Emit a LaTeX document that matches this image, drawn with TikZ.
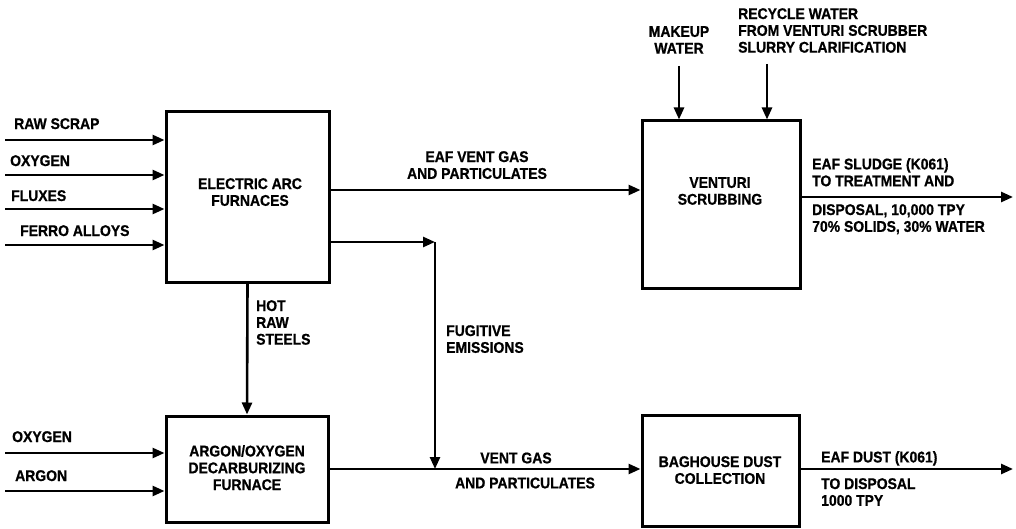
\documentclass[tikz,border=0pt]{standalone}
\usepackage{fontspec}
\setmainfont{Liberation Sans}
\newfontfamily\lblfont{Liberation Sans}[BoldFeatures={FakeStretch=0.9,FakeBold=0.8}]
\usetikzlibrary{arrows.meta}
\begin{document}
\begin{tikzpicture}[x=1pt,y=-1pt,
  box/.style={draw,line width=3pt,inner sep=0pt},
  flow/.style={line width=2.6pt,-{Triangle[length=12pt,width=10pt]}},
  lbl/.style={inner sep=0pt,font=\lblfont\bfseries\fontsize{15.5}{16.8}\selectfont},
  lbll/.style={lbl,align=left,anchor=north west},
  lblc/.style={lbl,align=center,anchor=north}]
\useasboundingbox (0,0) rectangle (1016,529);
% boxes
\node[box,minimum width=163pt,minimum height=170pt] (eaf) at (247.5,197) {};
\node[box,minimum width=158pt,minimum height=167pt] (ven) at (721,204.5) {};
\node[box,minimum width=162pt,minimum height=106pt] (aod) at (247,469) {};
\node[box,minimum width=157pt,minimum height=111pt] (bag) at (720.5,470.5) {};
% box texts
\node[lblc] (teaf) at (250,178) {ELECTRIC ARC\\FURNACES};
\node[lblc] (tven) at (720,177) {VENTURI\\SCRUBBING};
\node[lblc] (taod) at (247,445) {ARGON/OXYGEN\\DECARBURIZING\\FURNACE};
\node[lblc] (tbag) at (720,456) {BAGHOUSE DUST\\COLLECTION};
% EAF inputs
\coordinate (i1) at (5,140);
\coordinate (i2) at (5,175);
\coordinate (i3) at (5,209);
\coordinate (i4) at (5,245);
\draw[flow] (i1) -- (eaf.west |- i1);
\draw[flow] (i2) -- (eaf.west |- i2);
\draw[flow] (i3) -- (eaf.west |- i3);
\draw[flow] (i4) -- (eaf.west |- i4);
\node[lbll] (l1) at (14,118) {RAW SCRAP};
\node[lbll] (l2) at (10,155) {OXYGEN};
\node[lbll] (l3) at (11,190) {FLUXES};
\node[lbll] (l4) at (20,225) {FERRO ALLOYS};
% AOD inputs
\coordinate (a1) at (5,453);
\coordinate (a2) at (5,491);
\draw[flow] (a1) -- (aod.west |- a1);
\draw[flow] (a2) -- (aod.west |- a2);
\node[lbll] (l5) at (12,431) {OXYGEN};
\node[lbll] (l6) at (15,470) {ARGON};
% EAF vent gas
\coordinate (ev) at (0,190);
\draw[flow] (eaf.east |- ev) -- (ven.west |- ev);
\node[lblc] (tev) at (477,151) {EAF VENT GAS\\AND PARTICULATES};
% fugitive
\coordinate (fc) at (435,242);
\coordinate (fj) at (435,469);
\draw[flow] (eaf.east |- fc) -- (fc);
\draw[flow] (fc) -- (fj);
\node[lbll] (tfe) at (446,325) {FUGITIVE\\EMISSIONS};
% hot raw steels
\draw[flow] (eaf.south) -- (aod.north);
\node[lbll] (ths) at (256,300) {HOT\\RAW\\STEELS};
% vent gas to baghouse
\draw[flow] (aod.east |- fj) -- (bag.west |- fj);
\node[lbl,anchor=center] (tvg) at (516,458) {VENT GAS};
\node[lbl,anchor=center] (tap) at (525,483) {AND PARTICULATES};
% water inputs
\coordinate (mw) at (679,66);
\coordinate (rw) at (767,64);
\draw[flow] (mw) -- (ven.north -| mw);
\draw[flow] (rw) -- (ven.north -| rw);
\node[lblc] (tmw) at (679,26) {MAKEUP\\WATER};
\node[lbll] (trw) at (738,8) {RECYCLE WATER\\FROM VENTURI SCRUBBER\\SLURRY CLARIFICATION};
% sludge output
\coordinate (so) at (1013,197);
\draw[flow] (ven.east |- so) -- (so);
\node[lbll] (ts1) at (812,158) {EAF SLUDGE (K061)\\TO TREATMENT AND};
\node[lbll] (ts2) at (812,204) {DISPOSAL, 10,000 TPY\\70\% SOLIDS, 30\% WATER};
% dust output
\coordinate (do) at (1013,469);
\draw[flow] (bag.east |- do) -- (do);
\node[lbll] (td1) at (821,451) {EAF DUST (K061)};
\node[lbll] (td2) at (821,478) {TO DISPOSAL\\1000 TPY};
\end{tikzpicture}
\end{document}
